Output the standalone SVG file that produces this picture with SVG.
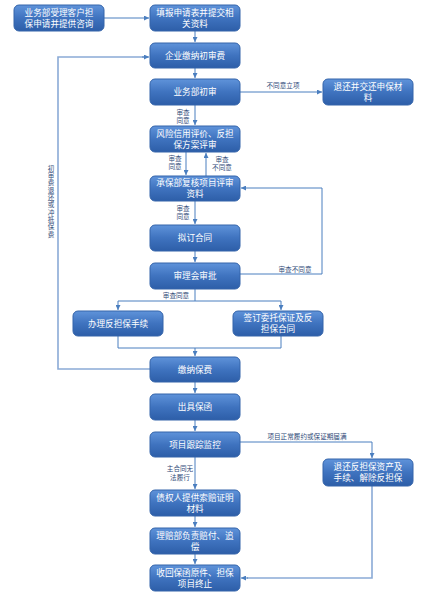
<svg xmlns="http://www.w3.org/2000/svg" width="434" height="600" viewBox="0 0 434 600">
<defs>
<linearGradient id="g" x1="0" y1="0" x2="0" y2="1">
<stop offset="0" stop-color="#5f93da"/>
<stop offset="0.5" stop-color="#3f73bf"/>
<stop offset="1" stop-color="#2d5ea8"/>
</linearGradient>
<marker id="a" viewBox="0 0 6 6" refX="6" refY="3" markerWidth="5" markerHeight="5" orient="auto" markerUnits="userSpaceOnUse">
<path d="M0,0 L6,3 L0,6 z" fill="#4a7ebf"/>
</marker>
</defs>
<style>
.b{fill:url(#g);stroke:#3464aa;stroke-width:1}
.t{font-family:"Noto Sans CJK SC","Liberation Sans",sans-serif;font-size:8.6px;fill:#ffffff;text-anchor:middle}
.l{font-family:"Noto Sans CJK SC","Liberation Sans",sans-serif;font-size:6.6px;fill:#2f4a78;text-anchor:middle}
.v{font-family:"Noto Sans CJK SC","Liberation Sans",sans-serif;font-size:6.6px;fill:#2f4a78;writing-mode:vertical-rl;letter-spacing:0.7px}
.c{fill:none;stroke:#4a7ebf;stroke-width:1}
.c2{fill:none;stroke:#8aaad6;stroke-width:1.6}
</style>
<rect width="434" height="600" fill="#ffffff"/>
<g id="connectors">
<path class="c" d="M104,18 H149" marker-end="url(#a)"/>
<path class="c" d="M195,31 V42" marker-end="url(#a)"/>
<path class="c" d="M195,68 V78" marker-end="url(#a)"/>
<path class="c" d="M240,92 H322" marker-end="url(#a)"/>
<path class="c" d="M195,105 V125" marker-end="url(#a)"/>
<path class="c" d="M186,152 V175" marker-end="url(#a)"/>
<path class="c" d="M206,176 V153" marker-end="url(#a)"/>
<path class="c" d="M195,201 V224" marker-end="url(#a)"/>
<path class="c" d="M195,251 V262" marker-end="url(#a)"/>
<path class="c" d="M240,274 H322 V188 H241" marker-end="url(#a)"/>
<path class="c" d="M195,289 V301"/>
<path class="c" d="M118,301 H281"/>
<path class="c" d="M118,301 V310" marker-end="url(#a)"/>
<path class="c" d="M281,301 V310" marker-end="url(#a)"/>
<path class="c" d="M118,336 V348 H281 V336"/>
<path class="c" d="M195,348 V356" marker-end="url(#a)"/>
<path class="c2" d="M150,369 H58 V57 H148"/>
<path class="c" d="M142,57 H149" marker-end="url(#a)"/>
<path class="c" d="M195,382 V393" marker-end="url(#a)"/>
<path class="c" d="M195,420 V431" marker-end="url(#a)"/>
<path class="c" d="M240,442 H372 V458" marker-end="url(#a)"/>
<path class="c" d="M195,457 V489" marker-end="url(#a)"/>
<path class="c" d="M195,516 V527" marker-end="url(#a)"/>
<path class="c" d="M195,554 V564" marker-end="url(#a)"/>
<path class="c2" d="M372,486 V578 H247"/>
<path class="c" d="M248,578 H241" marker-end="url(#a)"/>
<text class="l" x="283" y="88">不同意立项</text>
<text class="l" x="183" y="115">审查<tspan x="183" dy="8">同意</tspan></text>
<text class="l" x="175" y="161">审查<tspan x="175" dy="8">同意</tspan></text>
<text class="l" x="222" y="162">审查<tspan x="222" dy="8">不同意</tspan></text>
<text class="l" x="183" y="211">审查<tspan x="183" dy="8">同意</tspan></text>
<text class="l" x="295" y="272">审查不同意</text>
<text class="l" x="176" y="298">审查同意</text>
<text class="l" x="307" y="439">项目正常履约或保证期届满</text>
<text class="l" x="180" y="471">主合同无<tspan x="180" dy="9">法履行</tspan></text>
<text class="v" x="51" y="165">初审费退还或冲抵保费</text>
</g>
<g id="n1"><rect class="b" x="14" y="5" width="90" height="26" rx="5"/><text class="t" x="59" y="15.5">业务部受理客户担<tspan x="59" dy="11">保申请并提供咨询</tspan></text></g>
<g id="n2"><rect class="b" x="150" y="5" width="90" height="26" rx="5"/><text class="t" x="195" y="15.5">填报申请表并提交相<tspan x="195" dy="11">关资料</tspan></text></g>
<g id="n3"><rect class="b" x="150" y="43" width="90" height="25" rx="5"/><text class="t" x="195" y="58.5">企业缴纳初审费</text></g>
<g id="n4"><rect class="b" x="150" y="79" width="90" height="26" rx="5"/><text class="t" x="195" y="95">业务部初审</text></g>
<g id="n5"><rect class="b" x="323" y="79" width="90" height="26" rx="5"/><text class="t" x="368" y="89.5">退还并交还申保材<tspan x="368" dy="11">料</tspan></text></g>
<g id="n6"><rect class="b" x="150" y="126" width="90" height="26" rx="5"/><text class="t" x="195" y="136.5">风险信用评价、反担<tspan x="195" dy="11">保方案评审</tspan></text></g>
<g id="n7"><rect class="b" x="150" y="176" width="90" height="25" rx="5"/><text class="t" x="195" y="186">承保部复核项目评审<tspan x="195" dy="11">资料</tspan></text></g>
<g id="n8"><rect class="b" x="150" y="225" width="90" height="26" rx="5"/><text class="t" x="195" y="241">拟订合同</text></g>
<g id="n9"><rect class="b" x="150" y="263" width="90" height="26" rx="5"/><text class="t" x="195" y="279">审理会审批</text></g>
<g id="n10"><rect class="b" x="73" y="311" width="90" height="25" rx="5"/><text class="t" x="118" y="326.5">办理反担保手续</text></g>
<g id="n11"><rect class="b" x="233" y="311" width="90" height="25" rx="5"/><text class="t" x="278" y="321">签订委托保证及反<tspan x="278" dy="11">担保合同</tspan></text></g>
<g id="n12"><rect class="b" x="150" y="357" width="90" height="25" rx="5"/><text class="t" x="195" y="372.5">缴纳保费</text></g>
<g id="n13"><rect class="b" x="150" y="394" width="90" height="26" rx="5"/><text class="t" x="195" y="410">出具保函</text></g>
<g id="n14"><rect class="b" x="150" y="432" width="90" height="25" rx="5"/><text class="t" x="195" y="447.5">项目跟踪监控</text></g>
<g id="n15"><rect class="b" x="323" y="459" width="90" height="27" rx="5"/><text class="t" x="368" y="470">退还反担保资产及<tspan x="368" dy="11">手续、解除反担保</tspan></text></g>
<g id="n16"><rect class="b" x="150" y="490" width="90" height="26" rx="5"/><text class="t" x="195" y="500.5">债权人提供索赔证明<tspan x="195" dy="11">材料</tspan></text></g>
<g id="n17"><rect class="b" x="150" y="528" width="90" height="26" rx="5"/><text class="t" x="195" y="538.5">理赔部负责赔付、追<tspan x="195" dy="11">偿</tspan></text></g>
<g id="n18"><rect class="b" x="150" y="565" width="90" height="26" rx="5"/><text class="t" x="195" y="575.5">收回保函原件、担保<tspan x="195" dy="11">项目终止</tspan></text></g>
</svg>
